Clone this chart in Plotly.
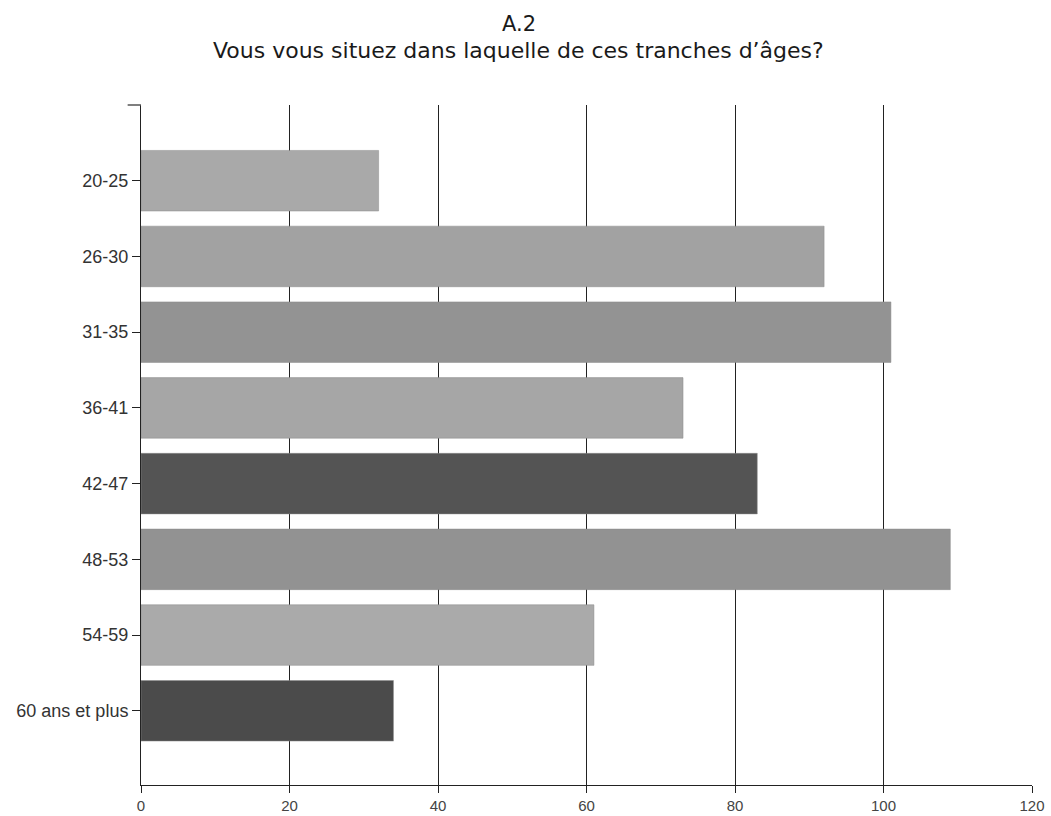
import plotly.graph_objects as go

categories = ["20-25", "26-30", "31-35", "36-41", "42-47", "48-53", "54-59", "60 ans et plus"]
values = [32, 92, 101, 73, 83, 109, 61, 34]
bar_colors = ["#a9a9a9", "#a2a2a2", "#939393", "#a6a6a6", "#545454", "#929292", "#aaaaaa", "#4b4b4b"]
x_ticks = [0, 20, 40, 60, 80, 100, 120]
title_line1 = "A.2"
title_line2 = "Vous vous situez dans laquelle de ces tranches d\u2019âges?"

fig = go.Figure(go.Bar(
    x=values, y=categories, orientation="h",
    marker=dict(color=bar_colors, line=dict(color="#8a8a8a", width=0.5)),
    width=0.8,
))

fig.update_layout(
    width=1051, height=816,
    margin=dict(l=141, r=19, t=105, b=31, autoexpand=False),
    paper_bgcolor="white", plot_bgcolor="white",
    font=dict(family="Liberation Sans, Arial, sans-serif", color="#333333", size=13),
    showlegend=False,
    bargap=0.2,
    annotations=[
        dict(text=title_line1, xref="paper", yref="paper", x=0.424, y=1.0, yshift=81,
             xanchor="center", yanchor="middle", showarrow=False,
             font=dict(family="DejaVu Sans, sans-serif", size=21, color="#1a1a1a")),
        dict(text=title_line2, xref="paper", yref="paper", x=0.424, y=1.0, yshift=55,
             xanchor="center", yanchor="middle", showarrow=False,
             font=dict(family="DejaVu Sans, sans-serif", size=22, color="#1a1a1a")),
    ],
    shapes=[
        dict(type="line", xref="paper", yref="paper", x0=-0.015, x1=0, y0=1, y1=1,
             line=dict(color="#555555", width=1.5)),
    ],
)

fig.update_xaxes(
    range=[0, 120], tickvals=x_ticks, ticktext=[str(v) for v in x_ticks],
    showgrid=True, gridcolor="#222222", gridwidth=1,
    showline=True, linecolor="#222222", linewidth=1,
    ticks="outside", ticklen=7, tickcolor="#222222",
    zeroline=False, tickfont=dict(size=15, color="#444444"),
    automargin=False,
)
fig.update_yaxes(
    categoryorder="array", categoryarray=categories,
    range=[7.98, -1.0],
    showgrid=False, showline=True, linecolor="#222222", linewidth=1,
    ticks="outside", ticklen=8, tickcolor="#222222",
    tickfont=dict(size=18, color="#333333"),
    automargin=False,
)

fig.write_html("out.html")
